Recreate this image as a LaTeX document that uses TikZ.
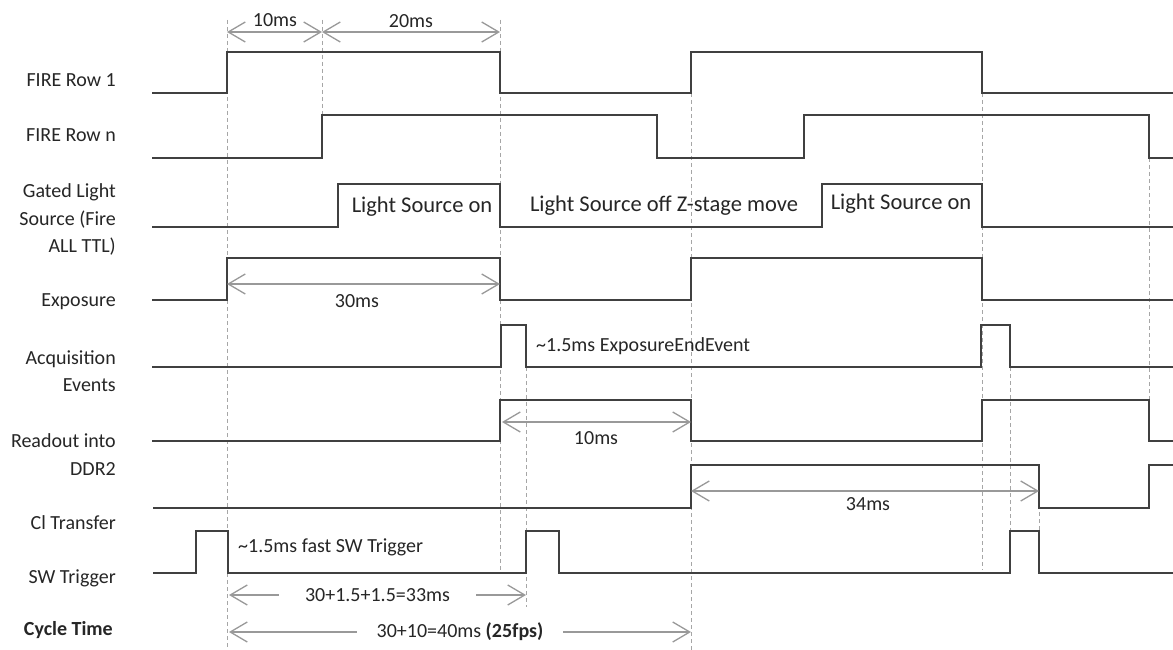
\documentclass[tikz,border=0pt]{standalone}
\usepackage{fontspec}
\setmainfont{Carlito}
\usetikzlibrary{arrows.meta}
\begin{document}
\begin{tikzpicture}[x=1pt,y=-1pt,
  sig/.style={draw=black!75, line width=1.6pt, line join=miter},
  guide/.style={draw=black!35, line width=0.9pt, dash pattern=on 4pt off 3pt},
  dim/.style={draw=black!40, line width=1.3pt, {Straight Barb[length=17pt,width=20pt]}-{Straight Barb[length=17pt,width=20pt]}},
  lbl/.style={anchor=east, align=right, font=\fontsize{20}{27.5}\selectfont, text=black!85, inner sep=0pt},
  txt/.style={font=\fontsize{20}{24}\selectfont, text=black!85, inner sep=0pt},
  big/.style={font=\fontsize{22.5}{26}\selectfont, text=black!85, inner sep=0pt},
  gap/.style={fill=white, inner xsep=26pt, inner ysep=2pt}
]
\useasboundingbox[fill=white] (0,0) rectangle (1173,650);

% ---- left labels ----
\node[lbl] (lFire1) at (116,80) {FIRE Row 1};
\node[lbl] (lFireN) at (116,135) {FIRE Row n};
\node[lbl] (lGated) at (116,219.5) {Gated Light\\Source (Fire\\ALL TTL)};
\node[lbl] (lExpo) at (116,302) {Exposure};
\node[lbl] (lAcq) at (116,371) {Acquisition\\Events};
\node[lbl] (lRead) at (116,454.5) {Readout into\\DDR2};
\node[lbl] (lCI) at (116,523) {Cl Transfer};
\node[lbl] (lSW) at (116,578) {SW Trigger};
\node[lbl, font=\fontsize{20}{27.5}\selectfont\bfseries] (lCyc) at (113,630) {Cycle Time};

% ---- guide lines ----
\draw[guide] (227,20) -- (227,650);
\draw[guide] (322,20) -- (322,115);
\draw[guide] (500,20) -- (500,572);
\draw[guide] (526,325) -- (526,607);
\draw[guide] (691,93) -- (691,650);
\draw[guide] (982,93) -- (982,570);
\draw[guide] (1010,367) -- (1010,531);
\draw[guide] (1039,491) -- (1039,531);
\draw[guide] (1149,158) -- (1149,400);

% ---- signals ----
\draw[sig] (152,93) -- (227,93) -- (227,52) -- (500,52) -- (500,93) -- (691,93) -- (691,52) -- (982,52) -- (982,93) -- (1173,93);
\draw[sig] (152,158) -- (322,158) -- (322,115) -- (657,115) -- (657,158) -- (804,158) -- (804,115) -- (1149,115) -- (1149,158) -- (1173,158);
\draw[sig] (152,227) -- (338,227) -- (338,184) -- (500,184) -- (500,227) -- (822,227) -- (822,184) -- (982,184) -- (982,227) -- (1173,227);
\draw[sig] (152,300) -- (227,300) -- (227,258) -- (500,258) -- (500,300) -- (691,300) -- (691,258) -- (982,258) -- (982,300) -- (1173,300);
\draw[sig] (152,367) -- (501,367) -- (501,325) -- (526,325) -- (526,367) -- (981,367) -- (981,325) -- (1010,325) -- (1010,367) -- (1173,367);
\draw[sig] (152,441) -- (500,441) -- (500,400) -- (691,400) -- (691,441) -- (982,441) -- (982,400) -- (1149,400) -- (1149,441) -- (1173,441);
\draw[sig] (153,508) -- (691,508) -- (691,465) -- (1039,465) -- (1039,508) -- (1149,508) -- (1149,465) -- (1173,465);
\draw[sig] (153,573) -- (196,573) -- (196,531) -- (228,531) -- (228,573) -- (526,573) -- (526,531) -- (559,531) -- (559,573) -- (1010,573) -- (1010,531) -- (1039,531) -- (1039,573) -- (1173,573);

% ---- signal texts ----
\node[big] (tOn1) at (422,207) {Light Source on};
\node[big] (tOff) at (664,206) {Light Source off Z-stage move};
\node[big] (tOn2) at (901,204) {Light Source on};
\node[txt, anchor=west] (tEnd) at (536,346) {\textasciitilde1.5ms ExposureEndEvent};
\node[txt, anchor=west] (tSW) at (238,547) {\textasciitilde1.5ms fast SW Trigger};

% ---- dimension arrows ----
\coordinate (a0) at (227,32);
\coordinate (a1) at (322,32);
\coordinate (a2) at (500,32);
\draw[dim] (a0) -- (a1);
\draw[dim] (a1) -- (a2);
\node[txt] (t10) at (275,20) {10ms};
\node[txt] (t20) at (411,21) {20ms};

\coordinate (e0) at (227,284);
\coordinate (e1) at (500,284);
\draw[dim] (e0) -- (e1);
\node[txt] (t30) at (357,301) {30ms};

\coordinate (r0) at (502,422);
\coordinate (r1) at (691,422);
\draw[dim] (r0) -- (r1);
\node[txt] (tR10) at (596,438) {10ms};

\coordinate (c0) at (691,491);
\coordinate (c1) at (1039,491);
\draw[dim] (c0) -- (c1);
\node[txt] (t34) at (868,504) {34ms};

\coordinate (s0) at (229,595);
\coordinate (s1) at (526,595);
\draw[dim] (s0) -- node[txt, gap] (t33) {30+1.5+1.5=33ms} (s1);

\coordinate (y0) at (229,632);
\coordinate (y1) at (691,632);
\draw[dim] (y0) -- node[txt, gap, inner xsep=20pt] (t40) {30+10=40ms \textbf{(25fps)}} (y1);
\end{tikzpicture}
\end{document}
